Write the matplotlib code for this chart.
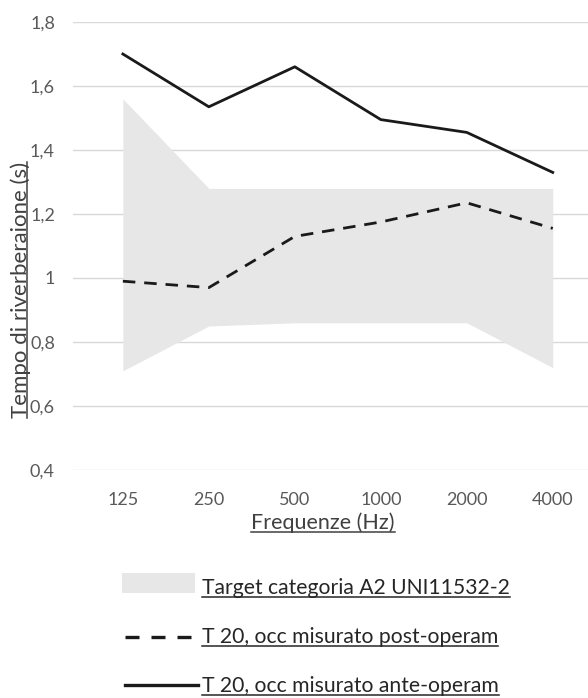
import matplotlib.pyplot as plt
from matplotlib.lines import Line2D
from matplotlib.patches import Rectangle

# Octave-band centre frequencies (Hz)
freqs = ["125", "250", "500", "1000", "2000", "4000"]

# Target range, category A2 (UNI 11532-2)
target_low = [0.71, 0.85, 0.86, 0.86, 0.86, 0.72]
target_high = [1.56, 1.28, 1.28, 1.28, 1.28, 1.28]

# Measured T20 (occupied), seconds
t20_post = [0.99, 0.97, 1.13, 1.175, 1.235, 1.155]
t20_ante = [1.70, 1.535, 1.66, 1.495, 1.455, 1.33]

yticks = [0.4, 0.6, 0.8, 1.0, 1.2, 1.4, 1.6, 1.8]
ytick_labels = ["0,4", "0,6", "0,8", "1", "1,2", "1,4", "1,6", "1,8"]

FONT = "Lato"
W, H = 588, 698

plt.rcParams["font.family"] = [FONT, "DejaVu Sans"]

fig = plt.figure(figsize=(W / 100, H / 100), dpi=100)
ax = fig.add_axes([73 / W, 1 - 470 / H, (W - 73) / W, 448 / H])

x = list(range(len(freqs)))
ax.fill_between(x, target_low, target_high, color="#e7e7e7", lw=0, zorder=1)
ax.plot(x, t20_post, color="#1a1a1a", lw=2.0, dashes=(4.5, 3.2), zorder=3)
ax.plot(x, t20_ante, color="#1a1a1a", lw=2.0, zorder=3)

ax.set_xlim(-0.58, 5.41)
ax.set_ylim(0.4, 1.8)
ax.set_yticks(yticks)
ax.set_yticklabels(ytick_labels)
ax.set_xticks(x)
ax.set_xticklabels(freqs)
ax.tick_params(length=0, labelsize=13, labelcolor="#595959")
ax.tick_params(axis="y", pad=13)
ax.tick_params(axis="x", pad=16)
ax.grid(axis="y", color="#d9d9d9", lw=1.0, zorder=0)
ax.set_axisbelow(True)
for s in ax.spines.values():
    s.set_visible(False)


def px(xp, yp):
    return xp / W, 1 - yp / H


# axis titles (underlined)
xt = fig.text(*px(323, 529), "Frequenze (Hz)", ha="center", va="baseline",
              fontsize=15.5, color="#404040")
yt = fig.text(*px(31, 290), "Tempo di riverberaione (s)", ha="right", va="center",
              rotation=90, fontsize=16, color="#404040")

# legend, drawn by hand
fig.add_artist(Rectangle(px(122, 593), 73 / W, 20 / H, transform=fig.transFigure,
                         color="#e7e7e7", lw=0))
fig.add_artist(Line2D([125 / W, 191 / W], [1 - 637 / H] * 2, transform=fig.transFigure,
                      color="#1a1a1a", lw=2.4, dashes=(4.2, 3.6)))
fig.add_artist(Line2D([125 / W, 198 / W], [1 - 685 / H] * 2, transform=fig.transFigure,
                      color="#1a1a1a", lw=2.4))
leg_texts = [
    fig.text(*px(202, 594), "Target categoria A2 UNI11532-2", va="baseline",
             fontsize=15.2, color="#262626"),
    fig.text(*px(202, 643), "T 20, occ misurato post-operam", va="baseline",
             fontsize=15.2, color="#262626"),
    fig.text(*px(202, 692), "T 20, occ misurato ante-operam", va="baseline",
             fontsize=15.2, color="#262626"),
]

# underline every title/legend label
fig.canvas.draw()
r = fig.canvas.get_renderer()
inv = fig.transFigure.inverted()
for t in [xt] + leg_texts:
    bb = t.get_window_extent(r)
    ybase = t.get_position()[1] * H - 0.12 * t.get_fontsize() * 100 / 72
    (x0, y0), (x1, _) = inv.transform([(bb.x0, ybase), (bb.x1, ybase)])
    fig.add_artist(Line2D([x0, x1], [y0, y0], transform=fig.transFigure,
                          color=t.get_color(), lw=1.1))
bb = yt.get_window_extent(r)
xl = bb.x1 - 0.2 * yt.get_fontsize() * 100 / 72
(x0, y0), (_, y1) = inv.transform([(xl, bb.y0), (xl, bb.y1)])
fig.add_artist(Line2D([x0, x0], [y0, y1], transform=fig.transFigure,
                      color=yt.get_color(), lw=1.1))

fig.savefig("out.png", dpi=100)
